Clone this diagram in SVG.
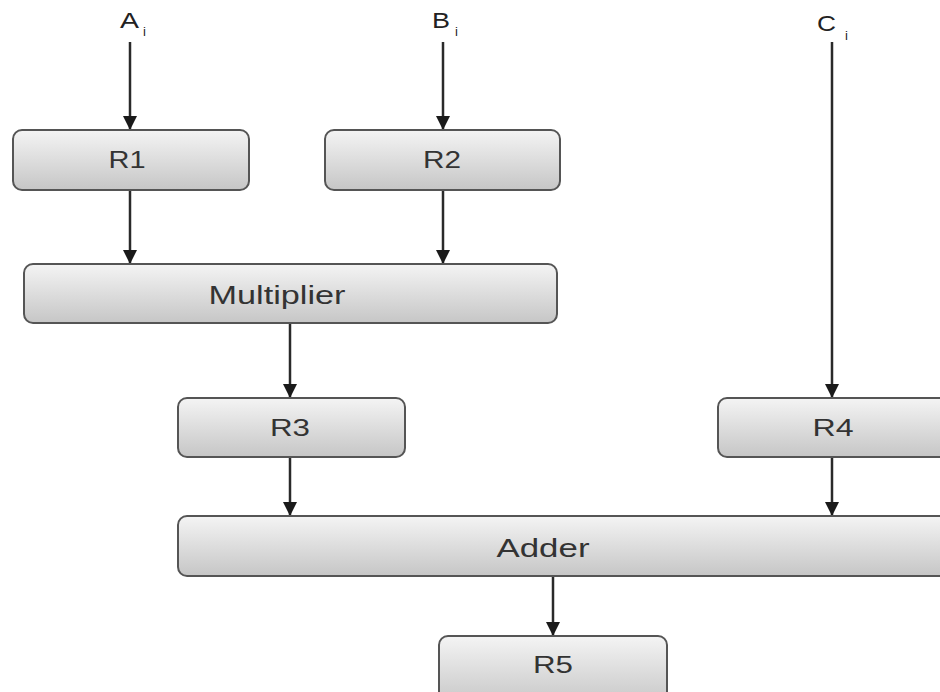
<svg xmlns="http://www.w3.org/2000/svg" width="940" height="692" viewBox="0 0 940 692">
  <defs>
    <linearGradient id="boxFill" x1="0" y1="0" x2="0" y2="1">
      <stop offset="0" stop-color="#f4f4f4"/>
      <stop offset="1" stop-color="#c6c6c6"/>
    </linearGradient>
    <marker id="arrowDown" viewBox="0 0 14 14" refX="7" refY="14" markerWidth="14" markerHeight="14" markerUnits="userSpaceOnUse" orient="0">
      <path d="M0,0 L14,0 L7,14 Z" fill="#1a1a1a"/>
    </marker>
  </defs>
  <style>
    .box { fill: url(#boxFill); stroke: #555; stroke-width: 2; }
    .label { font-family: "Liberation Sans", Arial, sans-serif; font-size: 23px; fill: #333; text-anchor: middle; }
    .wide { font-size: 25px; }
    .input { font-family: "Liberation Sans", Arial, sans-serif; font-size: 22px; fill: #222; text-anchor: start; }
    .sub { font-family: "Liberation Sans", Arial, sans-serif; font-size: 13px; fill: #222; }
    .wire { stroke: #2a2a2a; stroke-width: 2.5; fill: none; marker-end: url(#arrowDown); }
  </style>
  <rect width="940" height="692" fill="#ffffff"/>

  <!-- inputs: letter widened slightly, subscript i set beside it -->
  <g id="in-A"><text class="input" x="120" y="28" textLength="19" lengthAdjust="spacingAndGlyphs">A</text><text class="sub" x="143" y="36">i</text></g>
  <g id="in-B"><text class="input" x="432" y="28" textLength="18" lengthAdjust="spacingAndGlyphs">B</text><text class="sub" x="455" y="36">i</text></g>
  <g id="in-C"><text class="input" x="817" y="31" textLength="19" lengthAdjust="spacingAndGlyphs">C</text><text class="sub" x="845" y="40">i</text></g>

  <!-- connectors -->
  <g id="connectors">
    <line class="wire" x1="130" y1="42" x2="130" y2="130"/>
    <line class="wire" x1="443" y1="42" x2="443" y2="130"/>
    <line class="wire" x1="832" y1="42" x2="832" y2="398"/>
    <line class="wire" x1="130" y1="190" x2="130" y2="264"/>
    <line class="wire" x1="443" y1="190" x2="443" y2="264"/>
    <line class="wire" x1="290" y1="323" x2="290" y2="398"/>
    <line class="wire" x1="290" y1="457" x2="290" y2="516"/>
    <line class="wire" x1="832" y1="457" x2="832" y2="516"/>
    <line class="wire" x1="553" y1="576" x2="553" y2="636"/>
  </g>

  <!-- registers and units -->
  <g id="R1"><rect class="box" x="13" y="130" width="236" height="60" rx="9"/><text class="label" x="127" y="168" textLength="37" lengthAdjust="spacingAndGlyphs">R1</text></g>
  <g id="R2"><rect class="box" x="325" y="130" width="235" height="60" rx="9"/><text class="label" x="442" y="168" textLength="38" lengthAdjust="spacingAndGlyphs">R2</text></g>
  <g id="multiplier"><rect class="box" x="24" y="264" width="533" height="59" rx="9"/><text class="label wide" x="277" y="304" textLength="137" lengthAdjust="spacingAndGlyphs">Multiplier</text></g>
  <g id="R3"><rect class="box" x="178" y="398" width="227" height="59" rx="9"/><text class="label" x="290" y="436" textLength="40" lengthAdjust="spacingAndGlyphs">R3</text></g>
  <g id="R4"><rect class="box" x="718" y="398" width="240" height="59" rx="9"/><text class="label" x="833" y="436" textLength="41" lengthAdjust="spacingAndGlyphs">R4</text></g>
  <g id="adder"><rect class="box" x="178" y="516" width="780" height="60" rx="9"/><text class="label wide" x="543" y="557" textLength="93" lengthAdjust="spacingAndGlyphs">Adder</text></g>
  <g id="R5"><rect class="box" x="439" y="636" width="228" height="70" rx="9"/><text class="label" x="553" y="673" textLength="40" lengthAdjust="spacingAndGlyphs">R5</text></g>
</svg>
